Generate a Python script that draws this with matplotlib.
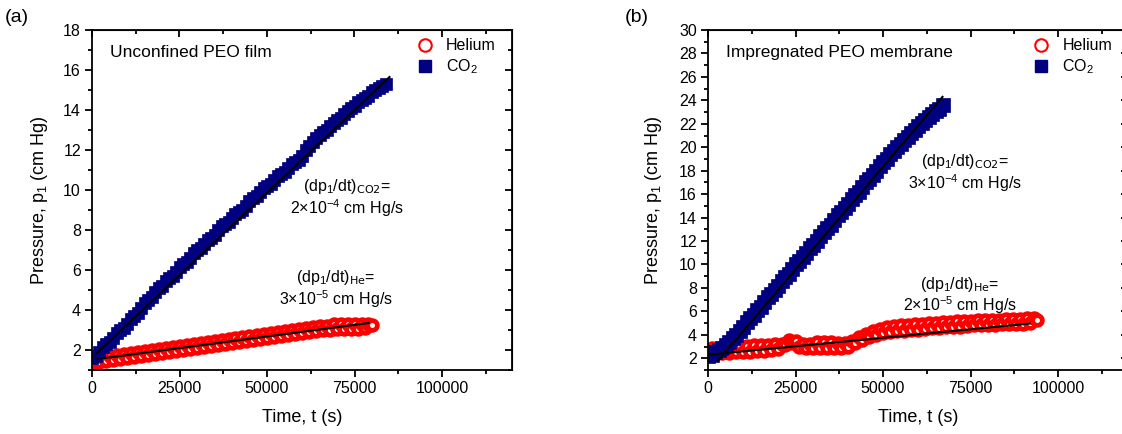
import numpy as np
import matplotlib
matplotlib.use('Agg')
import matplotlib.pyplot as plt
from matplotlib.lines import Line2D
from matplotlib.ticker import MultipleLocator

plt.rcParams['font.family'] = ['Liberation Sans', 'DejaVu Sans']
plt.rcParams['mathtext.fontset'] = 'custom'
plt.rcParams['mathtext.rm'] = 'Liberation Sans'
plt.rcParams['mathtext.it'] = 'Liberation Sans:italic'
plt.rcParams['mathtext.default'] = 'regular'

# ---- datos (tiempo en s, presion en cm Hg), una lectura cada 1000 s ----
# (a) pelicula de PEO sin confinar
t_he_a = np.arange(0, 80001, 1000)
p_he_a = [1.35, 1.58, 1.42, 1.63, 1.47, 1.68, 1.52, 1.73, 1.57, 1.78,
          1.62, 1.83, 1.67, 1.88, 1.72, 1.93, 1.77, 1.98, 1.82, 2.03,
          1.87, 2.08, 1.92, 2.13, 1.97, 2.18, 2.02, 2.23, 2.07, 2.28,
          2.12, 2.33, 2.17, 2.38, 2.22, 2.43, 2.27, 2.48, 2.32, 2.53,
          2.37, 2.58, 2.42, 2.63, 2.47, 2.68, 2.52, 2.73, 2.57, 2.78,
          2.62, 2.83, 2.67, 2.88, 2.72, 2.93, 2.77, 2.98, 2.82, 3.03,
          2.87, 3.08, 2.92, 3.13, 2.97, 3.18, 3.00, 3.22, 3.02, 3.28,
          3.03, 3.30, 3.05, 3.30, 3.05, 3.32, 3.05, 3.30, 3.08, 3.30,
          3.25]
t_co2_a = np.arange(0, 84001, 1000)
p_co2_a = [1.6, 1.7, 1.9, 2.15, 2.3, 2.4, 2.6, 2.85, 3.0, 3.1,
           3.3, 3.55, 3.7, 3.85, 4.1, 4.35, 4.5, 4.65, 4.9, 5.1,
           5.2, 5.45, 5.6, 5.7, 5.9, 6.15, 6.3, 6.4, 6.6, 6.85,
           7.0, 7.1, 7.3, 7.5, 7.6, 7.75, 8.0, 8.2, 8.3, 8.4,
           8.6, 8.8, 8.9, 9.0, 9.2, 9.45, 9.6, 9.7, 9.9, 10.1,
           10.2, 10.3, 10.5, 10.7, 10.8, 10.9, 11.1, 11.3, 11.4, 11.5,
           11.7, 12.0, 12.2, 12.4, 12.6, 12.75, 12.9, 13.0, 13.2, 13.35,
           13.5, 13.6, 13.8, 13.95, 14.1, 14.2, 14.4, 14.5, 14.6, 14.7,
           14.9, 15.0, 15.1, 15.2, 15.3]
fit_he_a = ([1500, 79000], [1.55, 3.35])
fit_co2_a = ([1400, 85000], [1.85, 15.65])

# (b) membrana de PEO impregnada
t_he_b = np.arange(0, 94001, 1000)
p_he_b = [2.35, 2.85, 2.40, 2.90, 2.45, 2.90, 2.45, 2.95, 2.50, 3.00,
          2.55, 3.05, 2.55, 3.10, 2.60, 3.10, 2.65, 3.15, 2.70, 3.20,
          2.75, 3.25, 3.10, 3.60, 3.30, 3.50, 3.00, 3.25, 2.85, 3.25,
          2.85, 3.35, 2.90, 3.35, 2.90, 3.40, 2.90, 3.30, 2.85, 3.30,
          3.00, 3.50, 3.30, 3.80, 3.60, 4.10, 3.85, 4.30, 4.00, 4.50,
          4.15, 4.65, 4.20, 4.75, 4.30, 4.80, 4.35, 4.85, 4.40, 4.90,
          4.45, 4.95, 4.50, 5.00, 4.55, 5.05, 4.60, 5.10, 4.65, 5.10,
          4.70, 5.15, 4.70, 5.20, 4.75, 5.20, 4.80, 5.25, 4.80, 5.25,
          4.85, 5.30, 4.85, 5.30, 4.90, 5.35, 4.90, 5.35, 4.95, 5.35,
          4.95, 5.40, 5.00, 5.40, 5.25]
t_co2_b = np.arange(0, 67001, 1000)
p_co2_b = [2.2, 2.3, 2.5, 2.7, 2.9, 3.1, 3.4, 3.7, 4.0, 4.3,
           4.7, 5.1, 5.4, 5.7, 6.1, 6.4, 6.8, 7.2, 7.5, 7.8,
           8.2, 8.6, 8.9, 9.2, 9.6, 10.0, 10.3, 10.6, 11.0, 11.4,
           11.7, 12.0, 12.4, 12.8, 13.1, 13.4, 13.8, 14.2, 14.5, 14.8,
           15.2, 15.6, 15.9, 16.2, 16.6, 17.0, 17.3, 17.6, 18.0, 18.4,
           18.7, 19.0, 19.4, 19.7, 20.0, 20.3, 20.6, 20.9, 21.2, 21.5,
           21.8, 22.1, 22.3, 22.6, 22.8, 23.1, 23.3, 23.6]
fit_he_b = ([0, 91900], [2.3, 4.96])
fit_co2_b = ([2850, 67000], [1.8, 24.3])

ROJO = '#ff0000'
AZUL = '#000080'

fig = plt.figure(figsize=(11.22, 4.34), dpi=100)
ax_a = fig.add_axes([92/1122, 64/434, 420/1122, 340/434])
ax_b = fig.add_axes([708/1122, 64/434, 420/1122, 340/434])


def dibuja(ax, t_he, p_he, t_co2, p_co2, fit_he, fit_co2, ms_co2):
    ax.plot(t_he, p_he, 'o', ms=7, mfc='white', mec=ROJO, mew=3.4, ls='none')
    ax.plot(t_co2, p_co2, 's', ms=ms_co2, mfc=AZUL, mec=AZUL, mew=0.5, ls='none')
    ax.plot(*fit_he, color='black', lw=1.5)
    ax.plot(*fit_co2, color='black', lw=1.5)


def ejes(ax, ymax, titulo):
    ax.set_xlim(0, 120000)
    ax.set_ylim(1, ymax)
    ax.xaxis.set_major_locator(MultipleLocator(25000))
    ax.xaxis.set_minor_locator(MultipleLocator(12500))
    ax.yaxis.set_major_locator(MultipleLocator(2))
    ax.yaxis.set_minor_locator(MultipleLocator(1))
    ax.set_yticks(np.arange(2, ymax + 1, 2))
    for s in ax.spines.values():
        s.set_linewidth(1.3)
    ax.tick_params(which='both', labelsize=11.5, width=1.3, pad=3,
                   direction='out', top=False, right=False)
    ax.tick_params(which='major', length=5)
    ax.tick_params(which='minor', length=3)
    # ticks interiores arriba y a la derecha (estilo Origin)
    sx = ax.secondary_xaxis('top')
    sx.xaxis.set_major_locator(MultipleLocator(25000))
    sx.xaxis.set_minor_locator(MultipleLocator(12500))
    sx.tick_params(which='both', direction='in', width=1.3, labeltop=False)
    sx.tick_params(which='major', length=5)
    sx.tick_params(which='minor', length=3)
    sy = ax.secondary_yaxis('right')
    sy.yaxis.set_major_locator(MultipleLocator(2))
    sy.yaxis.set_minor_locator(MultipleLocator(1))
    sy.tick_params(which='both', direction='in', width=1.3, labelright=False)
    sy.tick_params(which='major', length=5)
    sy.tick_params(which='minor', length=3)
    ax.set_xlabel('Time, t (s)', fontsize=13, labelpad=9)
    ax.set_ylabel('Pressure, p$_1$ (cm Hg)', fontsize=13)
    ax.text(0.043, 0.935, titulo, transform=ax.transAxes, fontsize=12.5,
            ha='left', va='center')
    handles = [Line2D([], [], marker='o', ls='none', ms=9, mfc='white', mec=ROJO, mew=1.5),
               Line2D([], [], marker='s', ls='none', ms=8, mfc=AZUL, mec=AZUL)]
    ax.legend(handles, ['Helium', 'CO$_2$'], loc='upper left',
              bbox_to_anchor=(0.775, 0.975), frameon=False, fontsize=11.5,
              handlelength=1.0, handletextpad=0.8, borderpad=0,
              labelspacing=0.25, borderaxespad=0)


def nota(ax, x, y, texto):
    ax.text(x, y, texto, fontsize=11.5, ha='center', va='center',
            multialignment='center', linespacing=1.05)


dibuja(ax_a, t_he_a, p_he_a, t_co2_a, p_co2_a, fit_he_a, fit_co2_a, 9)
ejes(ax_a, 18, 'Unconfined PEO film')
ax_a.yaxis.set_label_coords(-0.100, 0.5)
nota(ax_a, 72800, 9.6, '(dp$_1$/dt)$_{\\mathsf{CO2}}$=\n2×10$^{-4}$ cm Hg/s')
nota(ax_a, 69600, 5.05, '(dp$_1$/dt)$_{\\mathsf{He}}$=\n3×10$^{-5}$ cm Hg/s')

dibuja(ax_b, t_he_b, p_he_b, t_co2_b, p_co2_b, fit_he_b, fit_co2_b, 10)
ejes(ax_b, 30, 'Impregnated PEO membrane')
ax_b.yaxis.set_label_coords(-0.105, 0.5)
nota(ax_b, 73300, 17.8, '(dp$_1$/dt)$_{\\mathsf{CO2}}$=\n3×10$^{-4}$ cm Hg/s')
nota(ax_b, 71900, 7.35, '(dp$_1$/dt)$_{\\mathsf{He}}$=\n2×10$^{-5}$ cm Hg/s')

fig.text(5/1122, 1 - 17/434, '(a)', fontsize=14, ha='left', va='center')
fig.text(625/1122, 1 - 17/434, '(b)', fontsize=14, ha='left', va='center')

fig.savefig('out.png', dpi=100)
